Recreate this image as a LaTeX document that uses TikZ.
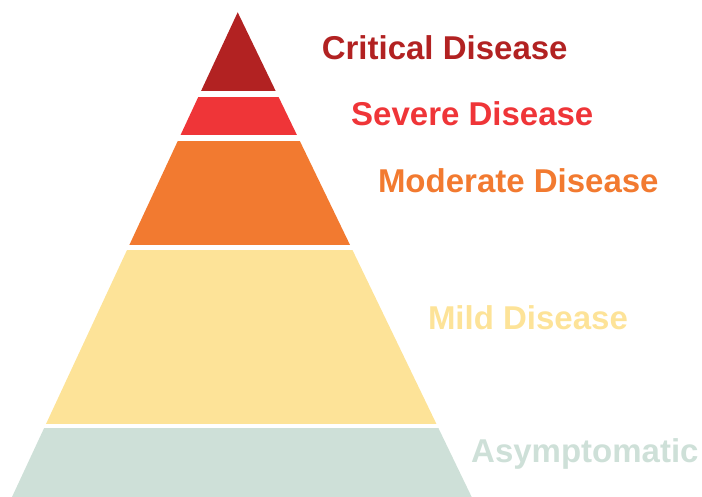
\documentclass[tikz,border=0pt]{standalone}
\usepackage{fontspec}
\setmainfont{Liberation Sans}
\definecolor{critc}{RGB}{178,34,34}
\definecolor{sevc}{RGB}{239,53,56}
\definecolor{modc}{RGB}{242,122,48}
\definecolor{mildc}{RGB}{253,227,152}
\definecolor{asymc}{RGB}{206,224,216}
\tikzset{lbl/.style={anchor=base west, inner sep=0pt, font=\fontsize{33}{37}\selectfont\bfseries}}
\begin{document}
\begin{tikzpicture}[x=1pt,y=-1pt]
\useasboundingbox (0,0) rectangle (702,497);
\begin{scope}
\clip (237.7,12.3) -- (471.7,497) -- (12,497) -- cycle;
\fill[critc] (0,0) rectangle (702,90.8);
\fill[sevc] (0,96.7) rectangle (702,135.3);
\fill[modc] (0,140.8) rectangle (702,245);
\fill[mildc] (0,250) rectangle (702,424.3);
\fill[asymc] (0,428.2) rectangle (702,498);
\end{scope}
\node[lbl, text=critc] (crit) at (321.6,59.3) {Critical Disease};
\node[lbl, text=sevc] (sev) at (351,126) {Severe Disease};
\node[lbl, text=modc] (mod) at (377.8,192.7) {Moderate Disease};
\node[lbl, text=mildc] (mild) at (427.8,330) {Mild Disease};
\node[lbl, text=asymc] (asym) at (471,462.3) {Asymptomatic};
\end{tikzpicture}
\end{document}
